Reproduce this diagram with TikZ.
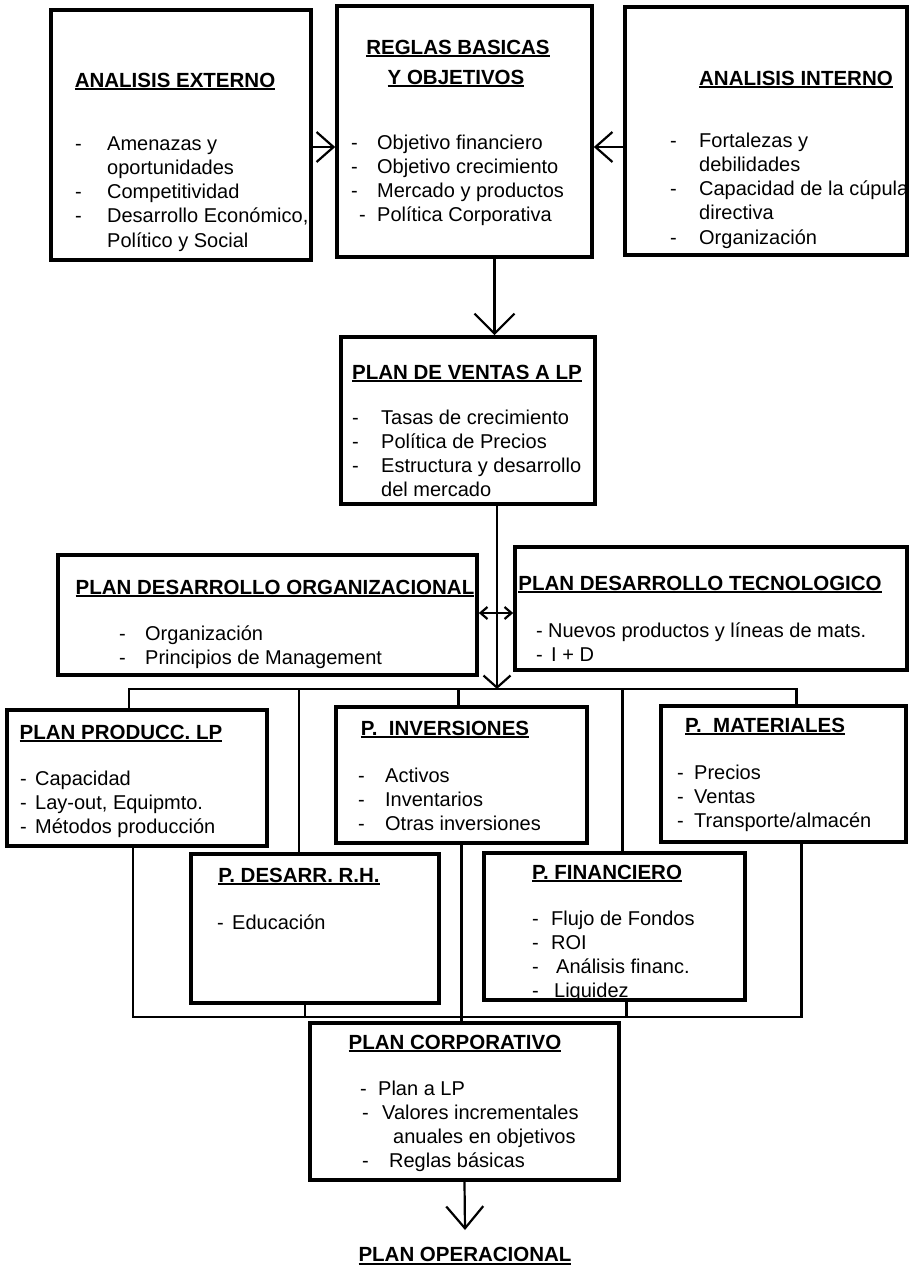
\documentclass[tikz,border=0pt]{standalone}
\usepackage{fontspec}
\setmainfont{Liberation Sans}
\usepackage{array}
\usetikzlibrary{arrows.meta}

\newcommand{\ttlu}[1]{\setbox0=\hbox{#1}\rlap{\rule[-3.2pt]{\wd0}{1.8pt}}\box0}
\newcommand{\lista}[2]{\begin{tabular}[t]{@{}p{#1}@{}l@{}}#2\end{tabular}}

\begin{document}
\begin{tikzpicture}[x=1pt, y=-1pt, >={Straight Barb[length=20pt,width=40pt]},
    box/.style n args={2}{draw, line width=3.6pt, minimum width=#1pt, minimum height=#2pt, inner sep=0pt},
    ttl/.style={font=\fontsize{20.5}{24}\selectfont\bfseries, anchor=base, inner sep=0pt},
    lst/.style={font=\fontsize{20}{24.3}\selectfont, anchor=base west, inner sep=0pt},
    wire/.style={line width=2.2pt}]
        \useasboundingbox (0,0) rectangle (909,1269);

        % boxes
        \node[box={260}{250}] (ext) at (181,135) {};
        \node[box={255}{251}] (reg) at (464.5,131.5) {};
        \node[box={282}{248}] (int) at (766,131) {};
        \node[box={254}{167}] (ven) at (468,420.5) {};
        \node[box={419}{120}] (org) at (267.5,615) {};
        \node[box={392}{123}] (tec) at (711,608.5) {};
        \node[box={260}{136}] (pro) at (137,778) {};
        \node[box={251}{136}] (inv) at (461.5,775) {};
        \node[box={245}{136}] (mat) at (783.5,774) {};
        \node[box={248}{149}] (rh) at (315,928.5) {};
        \node[box={261}{147}] (fin) at (614.5,926.5) {};
        \node[box={309}{157}] (cor) at (464.5,1101.5) {};

        % titles
        \node[ttl] (extT) at (175,87) {\ttlu{ANALISIS EXTERNO}};
        \node[ttl] (regT) at (458,54) {\ttlu{REGLAS BASICAS}};
        \node[ttl] (regT2) at (456,84) {\ttlu{Y OBJETIVOS}};
        \node[ttl] (intT) at (796,85) {\ttlu{ANALISIS INTERNO}};
        \node[ttl] (venT) at (467,379) {\ttlu{PLAN DE VENTAS A LP}};
        \node[ttl] (orgT) at (275,594) {\ttlu{PLAN DESARROLLO ORGANIZACIONAL}};
        \node[ttl] (tecT) at (700,590) {\ttlu{PLAN DESARROLLO TECNOLOGICO}};
        \node[ttl] (proT) at (121,739) {\ttlu{PLAN PRODUCC. LP}};
        \node[ttl] (invT) at (445,735) {\ttlu{P.\ \ INVERSIONES}};
        \node[ttl] (matT) at (765,732) {\ttlu{P.\ \ MATERIALES}};
        \node[ttl] (rhT) at (299,882) {\ttlu{P. DESARR. R.H.}};
        \node[ttl] (finT) at (607,879) {\ttlu{P. FINANCIERO}};
        \node[ttl] (corT) at (455,1049) {\ttlu{PLAN CORPORATIVO}};
        \node[ttl, anchor=north, inner ysep=17pt] (op) at (465,1230) {\ttlu{PLAN OPERACIONAL}};

        % lists
        \node[lst] (extL) at (75,150) {\lista{32pt}{- & Amenazas y\\ & oportunidades\\ - & Competitividad\\ - & Desarrollo Económico,\\ & Político y Social}};
        \node[lst] (regL) at (351,149) {\lista{26pt}{- & Objetivo financiero\\ - & Objetivo crecimiento\\ - & Mercado y productos\\ \hspace*{8pt}- & Política Corporativa}};
        \node[lst] (intL) at (670,147) {\lista{29pt}{- & Fortalezas y\\ & debilidades\\ - & Capacidad de la cúpula\\ & directiva\\ - & Organización}};
        \node[lst] (venL) at (352,424) {\lista{29pt}{- & Tasas de crecimiento\\ - & Política de Precios\\ - & Estructura y desarrollo\\ & del mercado}};
        \node[lst] (orgL) at (119,640) {\lista{26pt}{- & Organización\\ - & Principios de Management}};
        \node[lst] (tecL) at (536,637) {\lista{12pt}{- & Nuevos productos y líneas de mats.\\ - & \hspace*{3pt}I + D}};
        \node[lst] (proL) at (20,785) {\lista{15pt}{- & Capacidad\\ - & Lay-out, Equipmto.\\ - & Métodos producción}};
        \node[lst] (invL) at (358,782) {\lista{27pt}{- & Activos\\ - & Inventarios\\ - & Otras inversiones}};
        \node[lst] (matL) at (677,779) {\lista{17pt}{- & Precios\\ - & Ventas\\ - & Transporte/almacén}};
        \node[lst] (rhL) at (217,929) {\lista{15pt}{- & Educación}};
        \node[lst] (finL) at (532,925) {\lista{19pt}{- & Flujo de Fondos\\ - & ROI\\ - & \hspace*{5pt}Análisis financ.\\ - & \hspace*{3pt}Liquidez}};
        \node[lst] (corL) at (360,1095) {\lista{18pt}{- & Plan a LP\\ \hspace*{2pt}- & \hspace*{4pt}Valores incrementales\\ & \hspace*{15pt}anuales en objetivos\\ \hspace*{2pt}- & \hspace*{11pt}Reglas básicas}};

        % connectors
        \coordinate (hub) at (497,689);
        \coordinate (sink) at (461,1017);
        \draw[wire, ->, >={Straight Barb[length=17pt,width=30pt]}] ([yshift=-12pt]ext.east) -- ([yshift=-12pt]ext.east -| reg.west);
        \draw[wire, ->, >={Straight Barb[length=17pt,width=30pt]}] ([yshift=-16pt]int.west) -- ([yshift=-16pt]int.west -| reg.east);
        \draw[wire, ->] ([xshift=30pt]reg.south) -- ([xshift=30pt]reg.south |- ven.north);
        \draw[wire, ->, >={Straight Barb[length=12pt,width=27pt]}] (ven.south -| hub) -- (hub);
        \draw[wire, <->, >={Straight Barb[length=7pt,width=12pt]}] ([yshift=2pt]org.east) -- ([yshift=2pt]org.east -| tec.west);

        \draw[wire] ([xshift=-8pt]pro.north) |- (hub) -| ([xshift=13pt]mat.north);
        \draw[wire] ([xshift=-16pt]rh.north) -- ([xshift=-16pt]rh.north |- hub);
        \draw[wire] ([xshift=-3pt]inv.north) -- ([xshift=-3pt]inv.north |- hub);
        \draw[wire] ([xshift=8pt]fin.north) -- ([xshift=8pt]fin.north |- hub);

        \draw[wire] ([xshift=-4pt]pro.south) |- (sink) -| ([xshift=18pt]mat.south);
        \draw[wire] ([xshift=-10pt]rh.south) -- ([xshift=-10pt]rh.south |- sink);
        \draw[wire] ([xshift=12pt]fin.south) -- ([xshift=12pt]fin.south |- sink);
        \draw[wire] (inv.south) -- (inv.south |- cor.north);

        \draw[wire, ->, >={Straight Barb[length=22pt,width=37pt]}] (cor.south) -- (op.north);
    \end{tikzpicture}
\end{document}
